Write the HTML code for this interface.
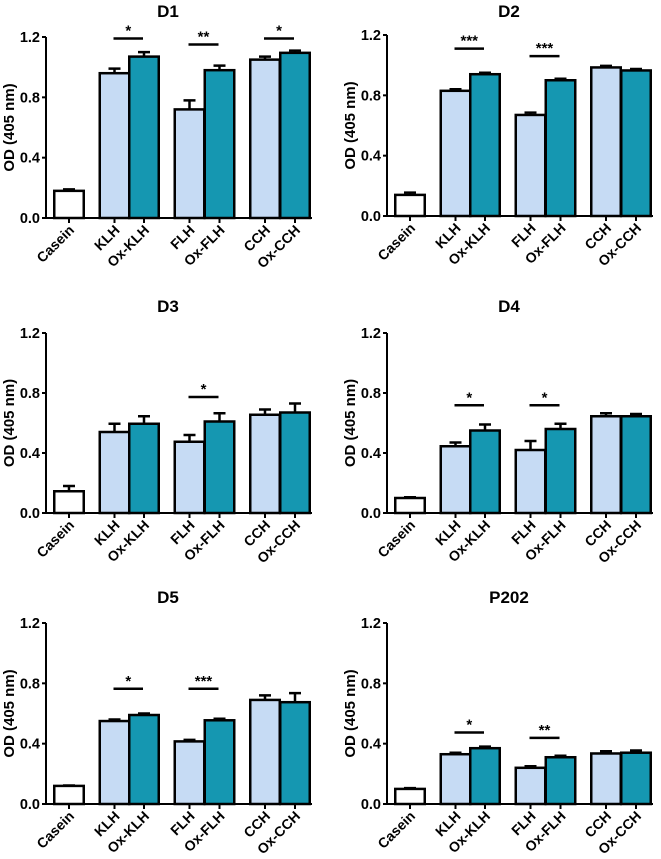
<!DOCTYPE html>
<html><head><meta charset="utf-8">
<style>
html,body{margin:0;padding:0;background:#fff;}
svg{display:block;font-family:"Liberation Sans",Arial,sans-serif;font-weight:bold;}
</style></head>
<body>
<svg id="fig" width="661" height="859" viewBox="0 0 661 859" xmlns="http://www.w3.org/2000/svg"></svg>
<script>
const categories = ["Casein","KLH","Ox-KLH","FLH","Ox-FLH","CCH","Ox-CCH"];
const yTicks = [0.0, 0.4, 0.8, 1.2];
const yTickLabels = ["0.0","0.4","0.8","1.2"];
const panelTitles = ["D1","D2","D3","D4","D5","P202"];
const meansD1 = [0.18,0.96,1.07,0.72,0.98,1.05,1.095];
const errsD1  = [0.01,0.03,0.03,0.06,0.03,0.02,0.015];
const meansD2 = [0.14,0.83,0.94,0.67,0.90,0.985,0.965];
const errsD2  = [0.015,0.01,0.01,0.015,0.01,0.01,0.01];
const meansD3 = [0.145,0.54,0.595,0.475,0.61,0.655,0.67];
const errsD3  = [0.035,0.055,0.05,0.045,0.055,0.035,0.06];
const meansD4 = [0.10,0.445,0.55,0.42,0.56,0.645,0.645];
const errsD4  = [0.005,0.025,0.04,0.06,0.035,0.02,0.015];
const meansD5 = [0.12,0.55,0.59,0.415,0.555,0.69,0.675];
const errsD5  = [0.003,0.01,0.01,0.01,0.01,0.03,0.06];
const meansP202 = [0.10,0.33,0.37,0.24,0.31,0.335,0.34];
const errsP202  = [0.005,0.01,0.01,0.01,0.01,0.015,0.015];
// significance: [first bar index, level, stars]
const sigD1 = [[1,1.19,"*"],[3,1.15,"**"],[5,1.19,"*"]];
const sigD2 = [[1,1.11,"***"],[3,1.06,"***"]];
const sigD3 = [[3,0.773,"*"]];
const sigD4 = [[1,0.718,"*"],[3,0.718,"*"]];
const sigD5 = [[1,0.764,"*"],[3,0.764,"***"]];
const sigP202 = [[1,0.474,"*"],[3,0.438,"**"]];

const allMeans=[meansD1,meansD2,meansD3,meansD4,meansD5,meansP202];
const allErrs=[errsD1,errsD2,errsD3,errsD4,errsD5,errsP202];
const allSig=[sigD1,sigD2,sigD3,sigD4,sigD5,sigP202];

const NS="http://www.w3.org/2000/svg";
const svg=document.getElementById('fig');
function mk(tag,attrs,parent){const e=document.createElementNS(NS,tag);for(const k in attrs)e.setAttribute(k,attrs[k]);(parent||svg).appendChild(e);return e;}

const layout=[{ax:46,top:37,bot:218,ty:17},{ax:387,top:35,bot:216,ty:17},
{ax:46,top:333,bot:513,ty:312},{ax:387,top:333,bot:513,ty:312},
{ax:46,top:623,bot:804,ty:603},{ax:387,top:623,bot:804,ty:603}];
const centerOff=[23,68.5,98,143.5,173.5,219,249];
const bw=29.5;
const fills=["#ffffff","#c6dbf4","#1597b1","#c6dbf4","#1597b1","#c6dbf4","#1597b1"];

for(let p=0;p<6;p++){
  const L=layout[p];
  const g=mk('g',{});
  
  
  const ys=v=>L.bot-(v/1.2)*(L.bot-L.top);
  const xs=i=>L.ax+centerOff[i];
  const t=mk('text',{x:L.ax+122,y:L.ty,'text-anchor':'middle','font-size':17},g);
  t.textContent=panelTitles[p];
  
  
  const means=allMeans[p],errs=allErrs[p];
  for(let i=0;i<categories.length;i++){
    const x=xs(i)-bw/2, y=ys(means[i]), ye=ys(means[i]+errs[i]);
    const eb=mk('path',{d:`M${xs(i)} ${y} V${ye} M${xs(i)-6} ${ye} H${xs(i)+6}`,stroke:'#000','stroke-width':2.5,fill:'none'},g);
    
    
    const r=mk('rect',{x:x,y:y,width:bw,height:L.bot-y,fill:fills[i],stroke:'#000','stroke-width':2.5},g);
    
    
  }
  const ax=mk('path',{d:`M${L.ax} ${L.top} V${L.bot} H${L.ax+266}`,stroke:'#000','stroke-width':2,fill:'none'},g);
  
  
  for(let k=0;k<yTicks.length;k++){
    const y=ys(yTicks[k]);
    mk('line',{x1:L.ax-4,x2:L.ax,y1:y,y2:y,stroke:'#000','stroke-width':2},g);
    const tl=mk('text',{x:L.ax-6,y:y+5,'text-anchor':'end','font-size':14.5},g);
    tl.textContent=yTickLabels[k];
    
    
  }
  for(let i=0;i<categories.length;i++){
    mk('line',{x1:xs(i),x2:xs(i),y1:L.bot,y2:L.bot+5,stroke:'#000','stroke-width':2},g);
    const xl=mk('text',{x:0,y:0,'text-anchor':'end','font-size':14,transform:`translate(${xs(i)+6},${L.bot+13}) rotate(-45)`},g);
    xl.textContent=categories[i];
    
    
  }
  const yt=mk('text',{x:0,y:0,'text-anchor':'middle','font-size':15,transform:`translate(${L.ax-32},${(L.top+L.bot)/2}) rotate(-90)`},g);
  yt.textContent="OD (405 nm)";
  
  
  for(const s of allSig[p]){
    const y=ys(s[1]);
    mk('line',{x1:xs(s[0])-1,x2:xs(s[0]+1)-1,y1:y,y2:y,stroke:'#000','stroke-width':2.5},g);
    const st=mk('text',{x:(xs(s[0])+xs(s[0]+1))/2-1,y:y-3,'text-anchor':'middle','font-size':15},g);
    st.textContent=s[2];
    
    
  }
}
</script>
</body></html>
